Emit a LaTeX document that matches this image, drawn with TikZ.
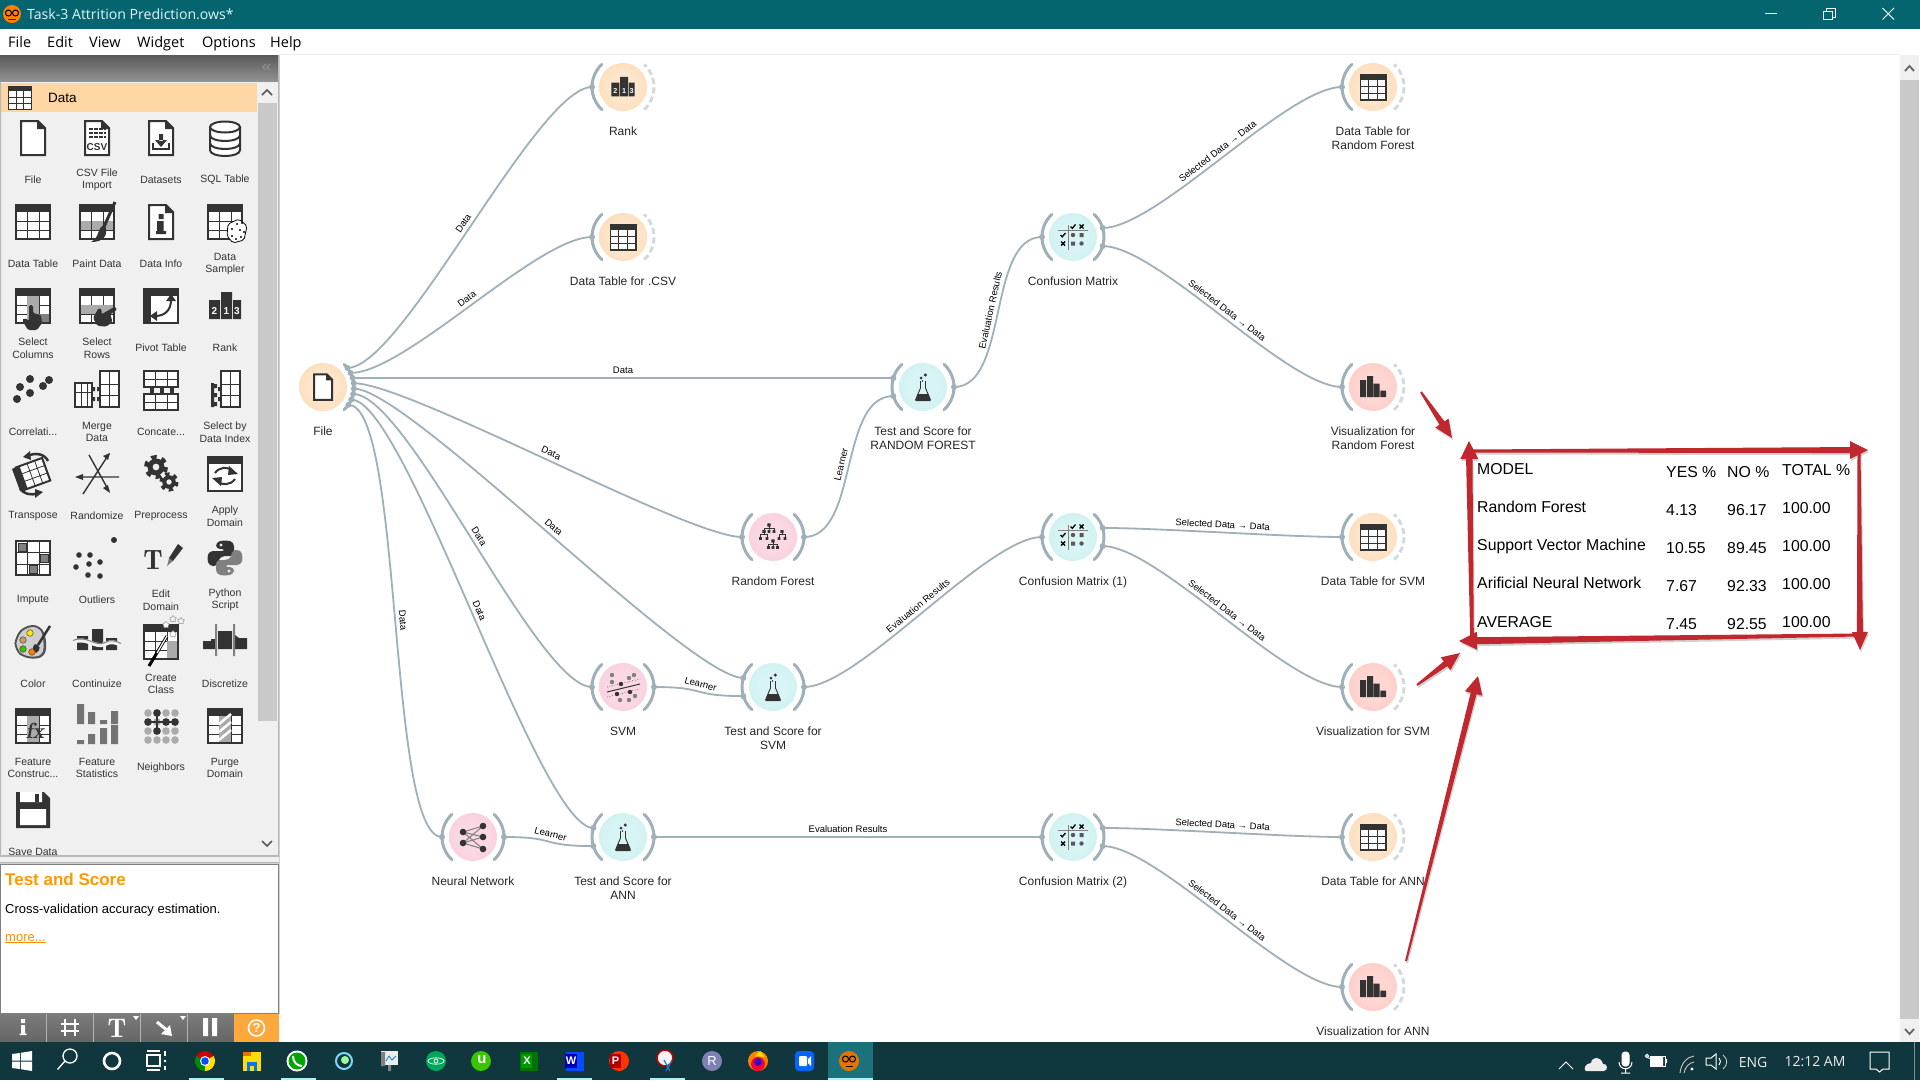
\documentclass[tikz,border=0pt]{standalone}
\usepackage{fontspec}
\setmainfont{Liberation Sans}
\newfontfamily\uifont{Open Sans}
\usetikzlibrary{calc,shapes.geometric}
\definecolor{titleteal}{HTML}{05656F}
\definecolor{taskdark}{HTML}{10373E}
\definecolor{taskact}{HTML}{1B727C}
\definecolor{taskline}{HTML}{A9F2F6}
\definecolor{panelgray}{HTML}{F0F0F0}
\definecolor{trackgray}{HTML}{C9C9C9}
\definecolor{tabpeach}{HTML}{FDD6A3}
\definecolor{linkgray}{HTML}{9FB0B8}
\definecolor{dashgray}{HTML}{D3D9DC}
\definecolor{icdark}{HTML}{333333}
\definecolor{icgray}{HTML}{ABABAB}
\definecolor{arrowred}{HTML}{C1272F}
\definecolor{helporange}{HTML}{FFA83E}
\definecolor{discOa}{HTML}{FDE6CC}\definecolor{discOb}{HTML}{FBCF9B}
\definecolor{discTa}{HTML}{D8F4F4}\definecolor{discTb}{HTML}{BFEDEE}
\definecolor{discPa}{HTML}{FBD8E4}\definecolor{discPb}{HTML}{F8C0D4}
\definecolor{discRa}{HTML}{FFD6D2}\definecolor{discRb}{HTML}{FDBBB7}
\newcommand{\discshade}[3]{\pgfdeclareradialshading{#1}{\pgfpointorigin}{color(0bp)=(#2); color(15bp)=(#2); color(50bp)=(#3)}}
\discshade{orangedisc}{discOa}{discOb}
\discshade{tealdisc}{discTa}{discTb}
\discshade{pinkdisc}{discPa}{discPb}
\discshade{reddisc}{discRa}{discRb}
\tikzset{
  widgetring/.style={circle,minimum size=62pt,inner sep=0pt,outer sep=0pt},
  widgetname/.style={anchor=north,align=center,inner sep=0pt,text=black!85,font=\fontsize{12}{14}\selectfont},
  pallabel/.style={align=center,inner sep=0pt,text=black!80,font=\fontsize{10.5}{12.5}\selectfont},
  linklabel/.style={midway,sloped,above,inner sep=3.5pt,font=\fontsize{9.5}{10}\selectfont},
  datalink/.style={draw=linkgray,line width=1.8pt},
  noarc/.style={draw=none},
  solidarc/.style={draw=linkgray,line width=3pt,line cap=round},
  dasharc/.style={draw=dashgray,line width=3pt,dash pattern=on 6pt off 3.5pt},
  icline/.style={draw=icdark,line width=2pt},
  tabtext/.style={anchor=base west,inner sep=0pt,text=black,font=\fontsize{15.8}{18}\selectfont},
  menutext/.style={anchor=base west,inner sep=0pt,text=black,font=\uifont\fontsize{14.5}{16}\selectfont},
  traytext/.style={inner sep=0pt,text=white!92!black,font=\uifont\fontsize{14}{16}\selectfont},
}
% table and document icons, 36 wide round the origin
\newcommand{\icTablebase}{%
  \fill[icdark] (-18,-18) rectangle (18,18);
  \fill[white] (-16,-10) rectangle (16,16);
  \draw[icdark,line width=1pt] (-6,-10) -- (-6,16) (6,-10) -- (6,16) (-16,-1) -- (16,-1) (-16,8) -- (16,8);}
\newcommand{\icDoc}{%
  \draw[icline,fill=white] (-12,-17) -- (5,-17) -- (12,-10) -- (12,17) -- (-12,17) -- cycle;
  \fill[icdark] (4,-18) -- (13,-9) -- (4,-9) -- cycle;}
\newcommand{\icHand}{%
  \fill[icdark,rounded corners=1.5pt] (-3,-10) -- (1,-10) -- (1,-2) -- (9,0) -- (10,8) -- (5,15) -- (-4,15) -- (-10,5) -- (-7,3) -- (-3,6) -- cycle;}
\newcommand{\icFile}{\icDoc}
\newcommand{\icCsv}{\icDoc
  \foreach \y in {-9,-5,-1} {\draw[icdark,line width=2.4pt,dash pattern=on 4pt off 1pt] (-8,\y) -- (9,\y);}
  \node[inner sep=0pt,icdark,font=\bfseries\fontsize{10}{10}\selectfont] (csvtext) at (0,9) {CSV};}
\newcommand{\icDatasets}{\icDoc
  \fill[icdark] (-2,-4) rectangle (2,3) (-6,2) -- (6,2) -- (0,9) -- cycle;
  \draw[icdark,line width=1.6pt] (-8,5) -- (-8,11) -- (8,11) -- (8,5);}
\newcommand{\icSql}{%
  \draw[icline,fill=white] (-15,-11) -- (-15,12) .. controls (-15,20) and (15,20) .. (15,12) -- (15,-11);
  \draw[icline,fill=white] (0,-11) ellipse [x radius=15,y radius=5.5];
  \draw[icline] (-15,-3) .. controls (-15,5) and (15,5) .. (15,-3) (-15,5) .. controls (-15,13) and (15,13) .. (15,5);}
\newcommand{\icTable}{\icTablebase}
\newcommand{\icPaint}{\icTablebase
  \fill[icgray] (-16,-1) rectangle (16,8);
  \draw[icdark,line width=1pt] (-6,-1) -- (-6,8) (6,-1) -- (6,8);
  \draw[icdark,line width=3pt] (18,-20) -- (6,7);
  \fill[icdark] (8,3) .. controls (0,4) and (3,16) .. (-6,20) .. controls (6,20) and (12,14) .. (8,3);}
\newcommand{\icInfo}{\icDoc
  \fill[icdark] (-2.5,-8) rectangle (2.5,-3) (-4,-1) rectangle (2.5,10) (-5,9) rectangle (5,12);}
\newcommand{\icSampler}{\icTablebase
  \draw[black,fill=white,line width=.8pt,rounded corners=2pt] (3,2) -- (14,-3) -- (22,4) -- (19,18) -- (8,21) -- (2,14) -- cycle;
  \foreach \p in {(7,7),(12,2),(17,1),(7,14),(11,17),(15,8),(19,10),(16,15)} {\fill[black] \p circle (1.2);}}
\newcommand{\icSelCol}{\icTablebase
  \fill[icgray] (-6,-10) rectangle (6,16);
  \fill[gray] (6,8) rectangle (16,16);
  \begin{scope}[shift={(-1,9)}]\icHand\end{scope}}
\newcommand{\icSelRow}{\icTablebase
  \fill[icgray] (-16,-1) rectangle (16,8);
  \begin{scope}[shift={(11,8)},rotate=-60]\icHand\end{scope}}
\newcommand{\icPivot}{%
  \fill[icdark] (-18,-18) rectangle (18,18);
  \fill[white] (-10,-10) rectangle (16,16);
  \draw[icdark,line width=2pt] (-6,10) .. controls (4,10) and (10,4) .. (10,-6);
  \fill[icdark] (5,-5) -- (10,-12) -- (15,-5) -- cycle (-4,5) -- (-11,10) -- (-4,15) -- cycle;}
\newcommand{\icRank}{%
  \fill[icdark] (-16,-6) rectangle (-5,13) (-4,-14) rectangle (7,13) (8,-6) rectangle (16,13);
  \node[inner sep=0pt,white,font=\bfseries\fontsize{10}{10}\selectfont] (rk2) at (-10.5,5) {2};
  \node[inner sep=0pt,white,font=\bfseries\fontsize{10}{10}\selectfont] (rk1) at (1.5,5) {1};
  \node[inner sep=0pt,white,font=\bfseries\fontsize{10}{10}\selectfont] (rk3) at (12,5) {3};}
\newcommand{\icCorr}{%
  \foreach \p in {(-16,9),(-13,-3),(-3,-11),(-3,3),(10,-4),(16,-10)} {\fill[icdark] \p circle (4);}}
\newcommand{\icMerge}{%
  \draw[icline,fill=white] (-22,-7) rectangle (-5,17);
  \draw[icdark,line width=.8pt] (-16,-7) -- (-16,17) (-10,-7) -- (-10,17) (-22,2) -- (-5,2);
  \draw[icline,fill=white] (3,-19) rectangle (22,17);
  \draw[icdark,line width=.8pt] (12,-19) -- (12,17) (3,-6) -- (22,-6) (3,5) -- (22,5);
  \fill[icdark] (-5,-3) rectangle (-2,1) (-5,7) rectangle (-2,11) (0,-3) rectangle (3,1) (0,7) rectangle (3,11);}
\newcommand{\icConcat}{%
  \draw[icline,fill=white] (-17,-19) rectangle (17,-3);
  \draw[icline,fill=white] (-17,4) rectangle (17,20);
  \draw[icdark,line width=.8pt] (-6,-19) -- (-6,-3) (6,-19) -- (6,-3) (-17,-11) -- (17,-11) (-6,4) -- (-6,20) (6,4) -- (6,20) (-17,12) -- (17,12);
  \foreach \x in {-9,1,11} {\fill[icdark] (\x-2,-3) rectangle (\x+2,4);}}
\newcommand{\icSelIndex}{%
  \draw[icline,fill=white] (-4,-19) rectangle (15,17);
  \draw[icdark,line width=.8pt] (5,-19) -- (5,17) (-4,-6) -- (15,-6) (-4,5) -- (15,5);
  \fill[icdark] (-14,-7) rectangle (-11,17) (-11,-6) rectangle (-8,-2) (-11,3) rectangle (-8,7) (-11,12) rectangle (-8,16) (-4,-3) rectangle (-7,1) (-4,7) rectangle (-7,11);}
\newcommand{\icTranspose}{%
  \begin{scope}[rotate=20]
    \draw[icline,fill=white] (-14,-12) rectangle (14,12);
    \fill[icdark] (-18,-12) rectangle (-10,12);
    \draw[icdark,line width=.8pt] (-2,-12) -- (-2,12) (6,-12) -- (6,12) (-10,-4) -- (14,-4) (-10,4) -- (14,4);
  \end{scope}
  \draw[icdark,line width=2.5pt] (-5,-18) .. controls (2,-22) and (12,-20) .. (15,-13) (-13,14) .. controls (-10,20) and (-2,22) .. (5,19);
  \fill[icdark] (-10,-17) -- (-3,-23) -- (-2,-14) -- cycle (10,18) -- (2,24) -- (2,15) -- cycle;}
\newcommand{\icRandomize}{%
  \draw[icdark,line width=1.4pt] (22,3) -- (-20,3) (-8,-19) -- (12,17) (-14,20) -- (12,-20);
  \fill[icdark] (-22,3) -- (-14,0) -- (-14,6) -- cycle (13,-21) -- (6,-18) -- (11,-14) -- cycle (13,19) -- (6,14) -- (11,11) -- cycle;}
\newcommand{\gearic}[3]{%
  \begin{scope}[shift={(#1,#2)}]
    \draw[icdark,line width=#3*.5pt,dash pattern=on #3*.5pt off #3*.5pt] (0,0) circle (#3*.95);
    \fill[icdark,even odd rule] (0,0) circle (#3*.85) (0,0) circle (#3*.35);
  \end{scope}}
\newcommand{\icPreprocess}{\gearic{-5}{-7}{10}\gearic{8}{8}{8}}
\newcommand{\icApply}{%
  \fill[icdark] (-18,-18) rectangle (18,18);
  \fill[white] (-16,-10) rectangle (16,16);
  \draw[icdark,line width=2pt] (-10,-1) .. controls (-6,-7) and (3,-8) .. (8,-3) (10,5) .. controls (6,11) and (-3,12) .. (-8,7);
  \fill[icdark] (4,-8) -- (13,0) -- (3,1) -- cycle (-4,12) -- (-13,4) -- (-3,3) -- cycle;}
\newcommand{\icImpute}{%
  \draw[icline,fill=white] (-17,-17) rectangle (17,17);
  \draw[icdark,line width=.8pt] (-6,-17) -- (-6,17) (6,-17) -- (6,17) (-17,-6) -- (17,-6) (-17,6) -- (17,6);
  \foreach \x/\y in {-11/-11,11/0,0/11} {\fill[gray,draw=icdark] (\x-4,\y-4) rectangle (\x+4,\y+4);}}
\newcommand{\icOutliers}{%
  \foreach \p in {(-18,-3),(-7,-3),(-21,9),(-8,6),(3,4),(-9,17),(3,18)} {\fill[icdark] \p circle (2.8);}
  \fill[icdark] (17,-18) circle (3);}
\newcommand{\icEdit}{%
  \node[inner sep=0pt,icdark,font=\fontfamily{lmr}\bfseries\fontsize{28}{28}\selectfont] (edT) at (-8,2) {T};
  \fill[gray] (6,8) -- (8,0) -- (12,3) -- cycle;
  \fill[icdark] (8,0) -- (17,-14) -- (22,-10) -- (12,3) -- cycle;}
\newcommand{\icPython}{%
  \fill[icdark,rounded corners=4pt] (0,-18) -- (9,-16) -- (9,-2) -- (-4,-2) -- (-7,3) -- (-7,8) -- (-16,8) -- (-18,0) -- (-16,-7) -- (1,-7) -- (1,-9) -- (-9,-9) -- (-9,-16) -- cycle;
  \fill[gray,rounded corners=4pt] (0,18) -- (-9,16) -- (-9,2) -- (4,2) -- (7,-3) -- (7,-8) -- (16,-8) -- (18,0) -- (16,7) -- (-1,7) -- (-1,9) -- (9,9) -- (9,16) -- cycle;
  \fill[panelgray] (-4,-13) circle (1.6) (4,13) circle (1.6);}
\newcommand{\icColor}{%
  \fill[icdark!85,rounded corners=8pt] (-18,-6) -- (-8,-17) -- (8,-17) -- (14,-2) -- (12,16) -- (-8,17) -- (-19,8) -- cycle;
  \fill[panelgray!70!gray,rounded corners=7pt] (-16,-5) -- (-7,-15) -- (7,-15) -- (11,-2) -- (10,14) -- (-7,15) -- (-17,7) -- cycle;
  \fill[yellow!90!orange,draw=icdark] (-3,-9) circle (3.3);
  \fill[brown!80!white,draw=icdark] (-10,-2) circle (3.3);
  \fill[green!50!olive,draw=icdark] (-10,7) circle (3.3);
  \fill[orange,draw=icdark] (-1,10) circle (3.3);
  \draw[icdark,line width=2.5pt] (17,-16) -- (5,3);
  \fill[icdark] (2,2) .. controls (8,3) and (8,8) .. (3,11) .. controls (1,8) and (-2,6) .. (2,2);}
\newcommand{\icContinuize}{%
  \fill[icdark] (-20,-6) rectangle (-9,8) (-5,-13) rectangle (6,8) (9,-4) rectangle (20,8);
  \draw[panelgray,line width=4pt] (-24,0) .. controls (-10,-6) and (-2,7) .. (8,2) .. controls (14,-1) and (18,0) .. (24,3);
  \draw[gray,line width=1pt] (-24,-1.5) .. controls (-10,-7.5) and (-2,5.5) .. (8,.5) .. controls (14,-2.5) and (18,-1.5) .. (24,1.5);}
\newcommand{\icCreate}{\icTablebase
  \fill[icgray] (6,-1) rectangle (16,16);
  \draw[black,line width=3pt] (-12,24) -- (6,-6);
  \draw[white,line width=1.2pt] (-4,11) -- (6,-6);
  \foreach \p/\c in {(5,-17)/white,(12,-8)/white,(12,-23)/panelgray,(20,-21)/panelgray} {\node[star,star points=5,fill=\c,draw=gray,minimum size=7pt,inner sep=0pt] (wand) at \p {};}}
\newcommand{\icDiscretize}{%
  \fill[icdark] (-22,-1) -- (-14,-1) -- (-14,-3) -- (-10,-3) -- (-10,7) -- (-22,7) -- cycle (-7,-11) rectangle (7,7) (10,-7) -- (14,-4) -- (22,-4) -- (22,7) -- (10,7) -- cycle;
  \fill[gray] (-10,-18) rectangle (-8,14) (8,-18) rectangle (10,14);}
\newcommand{\icFeatCon}{\icTablebase
  \fill[icgray] (-6,-10) rectangle (6,16);
  \node[inner sep=0pt,icdark,font=\fontfamily{lmr}\itshape\bfseries\fontsize{22}{22}\selectfont] (fxtext) at (2,5) {fx};}
\newcommand{\icFeatStat}{%
  \fill[gray!90!black] (-20,-22) rectangle (-13,-2) (-9,-14) rectangle (-2,-2) (3,-6) rectangle (10,-2) (14,-15) rectangle (21,-2);
  \fill[gray!90!black] (-20,14) rectangle (-13,18) (-9,8) rectangle (-2,18) (3,2) rectangle (10,18) (14,-1) rectangle (21,18);}
\newcommand{\icNeighbors}{%
  \foreach \x in {-13,-4,5,14} {\foreach \y in {-13,-4,5,14} {\fill[icgray] (\x,\y) circle (3.8);}}
  \foreach \x/\y in {-4/-13,-13/-4,5/-4,14/-4,-4/5} {\fill[icdark] (\x,\y) circle (3.8);}
  \draw[icdark,line width=1.4pt] (-4,-13) -- (-4,5) (-13,-4) -- (14,-4);}
\newcommand{\icPurge}{\icTablebase
  \fill[icgray] (-6,-10) rectangle (6,16);
  \foreach \y in {-2,6,14} {\draw[white,line width=2.5pt] (-6,\y) -- (6,\y-10);}}
\newcommand{\icSave}{%
  \fill[icdark] (-17,-18) -- (11,-18) -- (17,-12) -- (17,18) -- (-17,18) -- cycle;
  \fill[white] (-13,-18) rectangle (9,-8) (-13,-1) rectangle (13,15);
  \fill[icdark] (2,-16) rectangle (6,-8);}
% canvas only icons
\newcommand{\icFlask}{%
  \draw[icdark,line width=.9pt] (-2.5,-6) -- (-2.5,1) -- (-7.5,13) -- (7.5,13) -- (2.5,1) -- (2.5,-6);
  \fill[icdark] (-5.5,7) -- (5.5,7) -- (7.5,14) -- (-7.5,14) -- cycle;
  \fill[icdark] (-2,-9) circle (1.5) (2.3,-12) circle (1.7) (-.5,-6) circle (.9);}
\newcommand{\checkmk}[2]{\draw[black,line width=1.3pt] (#1-2.5,#2) -- (#1-.7,#2+1.8) -- (#1+2.5,#2-2);}
\newcommand{\crossmk}[2]{\draw[black,line width=1.4pt] (#1-2,#2-2) -- (#1+2,#2+2) (#1-2,#2+2) -- (#1+2,#2-2);}
\newcommand{\icConfusion}{%
  \draw[gray,line width=1pt] (-5,-12) -- (-5,13) (-15,-7) -- (15,-7);
  \checkmk{0}{-10.5}\crossmk{8.5}{-10.5}\checkmk{-10}{-2}\crossmk{-10}{6.5}
  \fill[black!65] (0,-2) circle (2.2) (8.5,6.5) circle (2.2) (6.5,-4) rectangle (10.5,0) (-2,4.5) rectangle (2,8.5);}
\newcommand{\icBars}{%
  \fill[icdark] (-13,-7) rectangle (-7,10) (-6,-11) rectangle (0,10) (.7,-3.5) rectangle (6.7,10) (7.4,3.5) rectangle (13,10);}
\newcommand{\icForest}{%
  \foreach \rx/\ry/\kx/\ky in {-4/-12/-9/-5.5,-4/-12/-4/-5.5,-4/-12/1/-5.5,-9/-5.5/-12.5/1.5,-9/-5.5/-6/1.5,9/-5.5/6/1.5,9/-5.5/12/1.5,0/4/-4.5/10.5,0/4/0/10.5,0/4/4.5/10.5} {
    \draw[icdark,line width=.6pt] (\rx,\ry) -- (\rx,\ry+3) -- (\kx,\ry+3) -- (\kx,\ky);
    \fill[icdark] (\rx-1.3,\ry-1.3) rectangle (\rx+1.3,\ry+1.3) (\kx-1.3,\ky-1.3) rectangle (\kx+1.3,\ky+1.3);
  }}
\newcommand{\icSvm}{%
  \foreach \p in {(-11,-12),(-11,-5),(6,-9),(11,-12),(-3,13),(6,13),(12,9)} {\fill[black!50] \p circle (2.2);}
  \foreach \p in {(-2,-3),(-6,7),(7,5)} {\fill[icdark] \p circle (2.2);}
  \draw[icdark,line width=1pt] (-16,5) -- (17,-3);
  \draw[icdark,line width=.6pt,dotted] (-16,0) -- (17,-8) (-16,10) -- (17,2);}
\newcommand{\icNnet}{%
  \draw[gray,line width=1pt] (-10,-5) -- (10,-11) (-10,-5) -- (10,0) (-10,-5) -- (10,12) (-10,6) -- (10,-11) (-10,6) -- (10,0) (-10,6) -- (10,12);
  \fill[icdark] (-10,-5) circle (3.3) (-10,6) circle (3.3) (10,-11) circle (3.3) (10,0) circle (3.3) (10,12) circle (3.3);}
% one widget of the canvas: name, position, disc, icon, scale, label, left arc, right arc
\newcommand{\widget}[8]{%
  \node[widgetring] (#1) at (#2) {};
  \shade[shading=#3] (#1.center) circle (24);
  \begin{scope}[shift={(#1.center)},y=1pt]
    \draw[#7] (133:31) arc[start angle=133,end angle=227,radius=31];
    \draw[#8] (-47:31) arc[start angle=-47,end angle=47,radius=31];
  \end{scope}
  \begin{scope}[shift={(#1.center)},scale=#5,transform shape]#4\end{scope}
  \node[widgetname] (#1name) at ($(#1.center)+(0,40)$) {#6};}
% link between two anchors of the widgets
\newcommand{\datalink}[3]{%
  \draw[datalink] (#1) .. controls +(55,0) and +(-55,0) .. node[linklabel] {#3} (#2);
  \fill[linkgray] (#1) circle (3) (#2) circle (3);}
\newcommand{\redarrow}[5]{%
  \coordinate (ra) at #1; \coordinate (rb) at #2;
  \coordinate (rc) at ($(rb)!18pt!(ra)$);
  \fill[arrowred,preaction={fill=black,fill opacity=.18,transform canvas={shift={(1pt,-2pt)}}}]
    ($(ra)!#3!90:(rb)$) -- ($(rc)!#4!90:(rb)$) -- ($(rc)!#5!90:(rb)$) -- (rb) -- ($(rc)!#5!-90:(rb)$) -- ($(rc)!#4!-90:(rb)$) -- ($(ra)!#3!-90:(rb)$) -- cycle;}
\begin{document}
\begin{tikzpicture}[x=1pt,y=-1pt]
  \useasboundingbox (0,0) rectangle (1920,1080);
  \fill[white] (0,0) rectangle (1920,1080);
  % title bar and menu
  \fill[titleteal] (0,0) rectangle (1920,29);
  \fill[orange] (12,14) circle (9);
  \draw[black,line width=1pt] (8.5,13) circle (3) (15.5,13) circle (3);
  \draw[black!70!orange,line width=1pt] (8,19) -- (16,19);
  \node[anchor=base west,inner sep=0pt,text=cyan!12!white,font=\uifont\fontsize{14.1}{16}\selectfont] (wintitle) at (27,19) {Task-3 Attrition Prediction.ows*};
  \draw[white,line width=1pt] (1765,13.5) -- (1777,13.5);
  \draw[white,line width=1pt] (1823.5,11) rectangle (1832.5,19.5) (1826,11) -- (1826,8.5) -- (1835,8.5) -- (1835,17) -- (1832.5,17);
  \draw[white,line width=.9pt] (1882.5,8) -- (1894,19.5) (1882.5,19.5) -- (1894,8);
  \foreach \x/\txt in {8/File,47/Edit,89/View,137/Widget,202/Options,270/Help} {\node[menutext] (menu\txt) at (\x,47) {\txt};}
  \draw[black!7,line width=1pt] (279,54.5) -- (1900,54.5);
  % widget panel
  \shade[top color=black!65,bottom color=black!42] (0,55) rectangle (279,82);
  \draw[black!45,line width=1.2pt] (266,64) -- (263,67) -- (266,70) (270,64) -- (267,67) -- (270,70);
  \fill[panelgray] (0,82) rectangle (279,855);
  \fill[tabpeach] (1,83) rectangle (257,112);
  \fill[black!28] (0,82) rectangle (1,1014) (278,55) rectangle (279.5,1014);
  \fill[trackgray] (258,103) rectangle (277,721);
  \draw[black!65,line width=1.6pt] (262,95) -- (267,90) -- (272,95);
  \draw[black!65,line width=1.6pt] (262,841) -- (267,846) -- (272,841);
  \begin{scope}[shift={(20,98)},scale=.66]
    \icTablebase
  \end{scope}
  \node[anchor=base west,inner sep=0pt,text=black,font=\fontsize{13.5}{16}\selectfont] (tabdata) at (48,102) {Data};
  % palette icons with their labels
  \foreach \x/\y/\ic/\txt in {
    33/138/icFile/File,97/138/icCsv/{CSV File\\Import},161/138/icDatasets/Datasets,225/138/icSql/SQL Table,
    33/222/icTable/Data Table,97/222/icPaint/Paint Data,161/222/icInfo/Data Info,225/222/icSampler/{Data\\Sampler},
    33/306/icSelCol/{Select\\Columns},97/306/icSelRow/{Select\\Rows},161/306/icPivot/Pivot Table,225/306/icRank/Rank,
    33/390/icCorr/{Correlati...},97/390/icMerge/{Merge\\Data},161/390/icConcat/{Concate...},225/390/icSelIndex/{Select by\\Data Index},
    33/474/icTranspose/Transpose,97/474/icRandomize/Randomize,161/474/icPreprocess/Preprocess,225/474/icApply/{Apply\\Domain},
    33/558/icImpute/Impute,97/558/icOutliers/Outliers,161/558/icEdit/{Edit\\Domain},225/558/icPython/{Python\\Script},
    33/642/icColor/Color,97/642/icContinuize/Continuize,161/642/icCreate/{Create\\Class},225/642/icDiscretize/Discretize,
    33/726/icFeatCon/{Feature\\Construc...},97/726/icFeatStat/{Feature\\Statistics},161/726/icNeighbors/Neighbors,225/726/icPurge/{Purge\\Domain},
    33/810/icSave/Save Data} {
    \begin{scope}[shift={(\x,\y)}]\csname\ic\endcsname\end{scope}
    \node[pallabel] (pal\x-\y) at (\x,\y+42) {\txt};
  }
  % help box and tool bar
  \fill[white] (0,855) rectangle (279,1014);
  \fill[black!28] (0,855) rectangle (279,857) (0,862) rectangle (279,863.5);
  \fill[panelgray] (0,857) rectangle (279,862);
  \draw[black!50,line width=1pt] (.5,864.5) rectangle (278,1013);
  \node[anchor=base west,inner sep=0pt,text=orange!80!yellow,font=\bfseries\fontsize{17}{20}\selectfont] (helptitle) at (5,885) {Test and Score};
  \node[anchor=base west,inner sep=0pt,text=black,font=\fontsize{13}{15}\selectfont] (helptext) at (5,913) {Cross-validation accuracy estimation.};
  \node[anchor=base west,inner sep=0pt,text=orange!90!yellow,font=\fontsize{13}{15}\selectfont] (helpmore) at (5,941) {\underline{more...}};
  \shade[top color=black!52,bottom color=black!60] (0,1014) rectangle (234,1042);
  \fill[helporange] (234,1014) rectangle (279,1042);
  \foreach \x in {46.5,93.5,140.5,187.5} {\draw[black!30,line width=1pt] (\x,1014) -- (\x,1042);}
  \fill[white] (21,1019) rectangle (25,1023) (21,1025) rectangle (25,1035) (19.5,1033.5) rectangle (26.5,1035);
  \draw[white,line width=2pt] (65,1019) -- (65,1036) (75,1019) -- (75,1036) (61,1024) -- (79,1024) (61,1031) -- (79,1031);
  \node[inner sep=0pt,white,font=\fontfamily{lmr}\bfseries\fontsize{27}{27}\selectfont] (toolT) at (117,1028) {T};
  \fill[white] (133,1016) -- (139,1016) -- (136,1020) -- cycle (180,1016) -- (186,1016) -- (183,1020) -- cycle;
  \draw[white,line width=3pt] (157,1022) -- (168,1031);
  \fill[white] (172,1036) -- (161,1034) -- (170,1025) -- cycle;
  \fill[white] (203,1018) rectangle (208,1036) (212,1018) rectangle (217,1036);
  \draw[white,line width=1.6pt] (256.5,1028) circle (8);
  \node[inner sep=0pt,white,font=\bfseries\fontsize{13}{13}\selectfont] (toolhelp) at (256.5,1028) {?};
  % canvas
  \fill[panelgray] (1900,55) rectangle (1919,1042);
  \fill[trackgray] (1900,80) rectangle (1919,1019);
  \draw[black!60,line width=1.8pt] (1905,71) -- (1909.5,66) -- (1914,71);
  \draw[black!60,line width=1.8pt] (1905,1029) -- (1909.5,1034) -- (1914,1029);
  \widget{File}{323,387}{orangedisc}{\icFile}{.75}{File}{noarc}{solidarc}
  \widget{Rank}{623,87}{orangedisc}{\icRank}{.72}{Rank}{solidarc}{dasharc}
  \widget{TableCsv}{623,237}{orangedisc}{\icTable}{.75}{Data Table for .CSV}{solidarc}{dasharc}
  \widget{ScoreRF}{923,387}{tealdisc}{\icFlask}{1}{Test and Score for\\RANDOM FOREST}{solidarc}{solidarc}
  \widget{MatrixRF}{1073,237}{tealdisc}{\icConfusion}{1}{Confusion Matrix}{solidarc}{solidarc}
  \widget{TableRF}{1373,87}{orangedisc}{\icTable}{.75}{Data Table for\\Random Forest}{solidarc}{dasharc}
  \widget{VisRF}{1373,387}{reddisc}{\icBars}{1}{Visualization for\\Random Forest}{solidarc}{dasharc}
  \widget{Forest}{773,537}{pinkdisc}{\icForest}{1}{Random Forest}{solidarc}{solidarc}
  \widget{MatrixSVM}{1073,537}{tealdisc}{\icConfusion}{1}{Confusion Matrix (1)}{solidarc}{solidarc}
  \widget{TableSVM}{1373,537}{orangedisc}{\icTable}{.75}{Data Table for SVM}{solidarc}{dasharc}
  \widget{VisSVM}{1373,687}{reddisc}{\icBars}{1}{Visualization for SVM}{solidarc}{dasharc}
  \widget{Svm}{623,687}{pinkdisc}{\icSvm}{1}{SVM}{solidarc}{solidarc}
  \widget{ScoreSVM}{773,687}{tealdisc}{\icFlask}{1}{Test and Score for\\SVM}{solidarc}{solidarc}
  \widget{Neural}{473,837}{pinkdisc}{\icNnet}{1}{Neural Network}{solidarc}{solidarc}
  \widget{ScoreANN}{623,837}{tealdisc}{\icFlask}{1}{Test and Score for\\ANN}{solidarc}{solidarc}
  \widget{MatrixANN}{1073,837}{tealdisc}{\icConfusion}{1}{Confusion Matrix (2)}{solidarc}{solidarc}
  \widget{TableANN}{1373,837}{orangedisc}{\icTable}{.75}{Data Table for ANN}{solidarc}{dasharc}
  \widget{VisANN}{1373,987}{reddisc}{\icBars}{1}{Visualization for ANN}{solidarc}{dasharc}
  % links
  \datalink{File.38}{Rank.180}{Data}
  \datalink{File.27}{TableCsv.180}{Data}
  \datalink{File.17}{ScoreRF.163}{Data}
  \datalink{File.7}{Forest.180}{Data}
  \datalink{File.-3}{ScoreSVM.163}{Data}
  \datalink{File.-13}{Svm.180}{Data}
  \datalink{File.-24}{ScoreANN.163}{Data}
  \datalink{File.-35}{Neural.180}{Data}
  \datalink{Forest.0}{ScoreRF.197}{Learner}
  \datalink{Svm.0}{ScoreSVM.197}{Learner}
  \datalink{Neural.0}{ScoreANN.197}{Learner}
  \datalink{ScoreRF.0}{MatrixRF.180}{Evaluation Results}
  \datalink{ScoreSVM.0}{MatrixSVM.180}{Evaluation Results}
  \datalink{ScoreANN.0}{MatrixANN.180}{Evaluation Results}
  \datalink{MatrixRF.17}{TableRF.180}{Selected Data → Data}
  \datalink{MatrixRF.-17}{VisRF.180}{Selected Data → Data}
  \datalink{MatrixSVM.17}{TableSVM.180}{Selected Data → Data}
  \datalink{MatrixSVM.-17}{VisSVM.180}{Selected Data → Data}
  \datalink{MatrixANN.17}{TableANN.180}{Selected Data → Data}
  \datalink{MatrixANN.-17}{VisANN.180}{Selected Data → Data}
  % results table
  \foreach \y/\txt in {474/MODEL,512/Random Forest,550/Support Vector Machine,588/Arificial Neural Network,627/AVERAGE} {\node[tabtext] (model\y) at (1477,\y) {\txt};}
  \foreach \y/\yes/\no in {477/YES \%/NO \%,515/4.13/96.17,553/10.55/89.45,591/7.67/92.33,629/7.45/92.55} {
    \node[tabtext] (yes\y) at (1666,\y) {\yes};
    \node[tabtext] (no\y) at (1727,\y) {\no};
  }
  \foreach \y/\txt in {475/TOTAL \%,513/100.00,551/100.00,589/100.00,627/100.00} {\node[tabtext] (total\y) at (1782,\y) {\txt};}
  % red arrows
  \redarrow{(1472,451)}{(1868,450)}{1.5pt}{3pt}{9pt}
  \redarrow{(1472,637)}{(1469,441)}{1.8pt}{3.2pt}{9pt}
  \redarrow{(1857,635)}{(1459,641)}{1.5pt}{3.5pt}{9pt}
  \redarrow{(1859,453)}{(1860,650)}{1.5pt}{3pt}{8pt}
  \redarrow{(1421,392)}{(1452,438)}{1pt}{3pt}{8pt}
  \redarrow{(1417,685)}{(1460,653)}{1pt}{3pt}{8pt}
  \redarrow{(1406,961)}{(1478,676)}{1pt}{3pt}{9pt}
  % task bar
  \fill[taskdark] (0,1042) rectangle (1920,1080);
  \fill[taskact] (828,1042) rectangle (873,1080);
  \foreach \x/\w in {189/35,281/35,557/35,650/35,828/45} {\fill[taskline] (\x,1077.5) rectangle (\x+\w,1080);}
  \fill[white] (12,1054) -- (20,1053) -- (20,1060.5) -- (12,1060.5) -- cycle (21,1052.8) -- (32,1051) -- (32,1060.5) -- (21,1060.5) -- cycle (12,1061.5) -- (20,1061.5) -- (20,1069) -- (12,1068) -- cycle (21,1061.5) -- (32,1061.5) -- (32,1071) -- (21,1069.2) -- cycle;
  \draw[white,line width=1.3pt] (70,1056) circle (7) (65,1061) -- (57.5,1069.5);
  \draw[white,line width=2.6pt] (112,1061) circle (8);
  \draw[white,line width=1.1pt] (147,1055) rectangle (160,1066) (147,1051) -- (160,1051) (147,1070) -- (160,1070) (165,1051) -- (165,1056) (165,1066) -- (165,1070);
  \fill[white] (165,1061) circle (1.4);
  % tray icons of the programs
  \begin{scope}[shift={(205,1061)},y=1pt]
    \fill[red!80!black] (0,0) -- (30:10) arc[start angle=30,end angle=150,radius=10] -- cycle;
    \fill[green!55!black] (0,0) -- (150:10) arc[start angle=150,end angle=270,radius=10] -- cycle;
    \fill[yellow!85!orange] (0,0) -- (270:10) arc[start angle=270,end angle=390,radius=10] -- cycle;
    \fill[white] (0,0) circle (5); \fill[blue!70!cyan] (0,0) circle (3.8);
  \end{scope}
  \fill[yellow!80!orange] (243,1052) rectangle (261,1071);
  \fill[orange!90!black] (243,1052) rectangle (251,1056);
  \fill[blue!55!cyan] (247,1062) rectangle (257,1071); \fill[yellow!80!orange] (250,1066) rectangle (254,1071);
  \fill[white] (297,1061) circle (10.5); \fill[green!65!black] (297,1061) circle (8.5);
  \draw[white,line width=2pt] (293,1056) .. controls (293,1062) and (297,1066) .. (302,1066);
  \draw[cyan!50!white,line width=2pt] (344,1061) circle (8); \fill[green!40!white] (345,1060) circle (4);
  \fill[white!85!gray] (381,1051) rectangle (398,1065); \fill[gray] (388,1065) rectangle (391,1071) (381,1052) rectangle (385,1066);
  \draw[cyan!70!blue,line width=.8pt] (386,1061) -- (389,1056) -- (392,1060) -- (396,1056);
  \fill[teal!70!green] (436,1061) circle (10); \draw[white,line width=.7pt] (436,1061) circle (2) (436,1061) ellipse [x radius=8,y radius=3.2];
  \fill[green!55!olive] (481,1061) circle (10);
  \node[inner sep=0pt,white,font=\bfseries\fontsize{15}{15}\selectfont] (utorrent) at (482,1060) {u};
  \fill[green!45!black] (520,1052) rectangle (538,1071); \fill[green!60!black] (521,1054) rectangle (532,1068);
  \node[inner sep=0pt,white,font=\bfseries\fontsize{11}{11}\selectfont] (excelx) at (527,1061) {X};
  \fill[blue!70!cyan] (566,1052) rectangle (584,1071); \fill[blue!70!black] (565,1054) rectangle (577,1068);
  \node[inner sep=0pt,white,font=\bfseries\fontsize{11}{11}\selectfont] (wordw) at (571,1061) {W};
  \fill[red!60!orange] (619,1061) circle (10); \fill[red!70!black] (610,1054) rectangle (621,1068);
  \node[inner sep=0pt,white,font=\bfseries\fontsize{11}{11}\selectfont] (pptp) at (615.5,1061) {P};
  \fill[white!90!gray] (665,1058) circle (8); \draw[red!75!black,line width=1.5pt] (665,1058) circle (8);
  \draw[cyan!60!blue,line width=1.2pt] (664,1060) -- (670,1071) (672,1060) -- (666,1071);
  \fill[blue!25!gray!80!white] (712,1061) circle (10);
  \node[inner sep=0pt,white,font=\fontsize{13}{13}\selectfont] (rlogo) at (712,1061) {R};
  \fill[orange] (758,1061) circle (10); \fill[red!80!magenta] (758,1064) circle (7); \fill[blue!50!violet] (758,1062) circle (4); \fill[yellow!80!orange] (760,1051) -- (765,1057) -- (755,1056) -- cycle;
  \fill[blue!60!cyan,rounded corners=4pt] (795,1051) rectangle (814,1071); \fill[white,rounded corners=1pt] (799,1056) rectangle (807,1066); \fill[white] (808,1059) -- (811,1056) -- (811,1066) -- (808,1063) -- cycle;
  \fill[orange!90!black] (849,1061) circle (10);
  \draw[black,line width=1pt] (845.5,1059) circle (3) (852.5,1059) circle (3); \draw[black,line width=1pt] (846,1066) -- (853,1066);
  % system tray
  \draw[white,line width=1pt] (1559,1069) -- (1566,1062) -- (1573,1069);
  \fill[white!85!gray] (1586,1071) -- (1604,1071) .. controls (1609,1070) and (1607,1063) .. (1603,1064) .. controls (1601,1056) and (1592,1056) .. (1591,1063) .. controls (1585,1063) and (1583,1070) .. (1586,1071) -- cycle;
  \draw[white,fill=white,line width=1pt,rounded corners=3pt] (1622,1052) rectangle (1629,1066);
  \draw[white,line width=1pt] (1619,1062) .. controls (1619,1071) and (1632,1071) .. (1632,1062) (1625.5,1069) -- (1625.5,1073) (1621,1073) -- (1630,1073);
  \draw[white,line width=1pt] (1650,1056) rectangle (1665,1066); \fill[white] (1650,1056) rectangle (1663,1066) (1666,1059) rectangle (1667,1063);
  \draw[white,line width=1pt] (1647,1056) circle (1.6) (1648,1058) -- (1650,1058);
  \draw[white!55!gray,line width=.9pt] (1680,1073) .. controls (1681,1063) and (1687,1057) .. (1694,1056) (1684,1073) .. controls (1685,1067) and (1689,1063) .. (1694,1062);
  \fill[white] (1692,1069) circle (1.6);
  \draw[white,line width=1pt] (1706,1058) -- (1711,1058) -- (1716,1054) -- (1716,1069) -- (1711,1065) -- (1706,1065) -- cycle (1719,1058) .. controls (1721,1060) and (1721,1063) .. (1719,1065);
  \draw[white!55!gray,line width=.9pt] (1723,1055) .. controls (1728,1059) and (1728,1065) .. (1723,1069);
  \node[traytext] (trayeng) at (1753,1062) {ENG};
  \node[traytext] (trayclock) at (1815,1062) {12:12 AM};
  \draw[white,line width=1pt] (1870,1052) -- (1889,1052) -- (1889,1069) -- (1883,1069) -- (1879.5,1072) -- (1876,1069) -- (1870,1069) -- cycle;
  \draw[black!45,line width=1pt] (1914.5,1042) -- (1914.5,1080);
\end{tikzpicture}
\end{document}
